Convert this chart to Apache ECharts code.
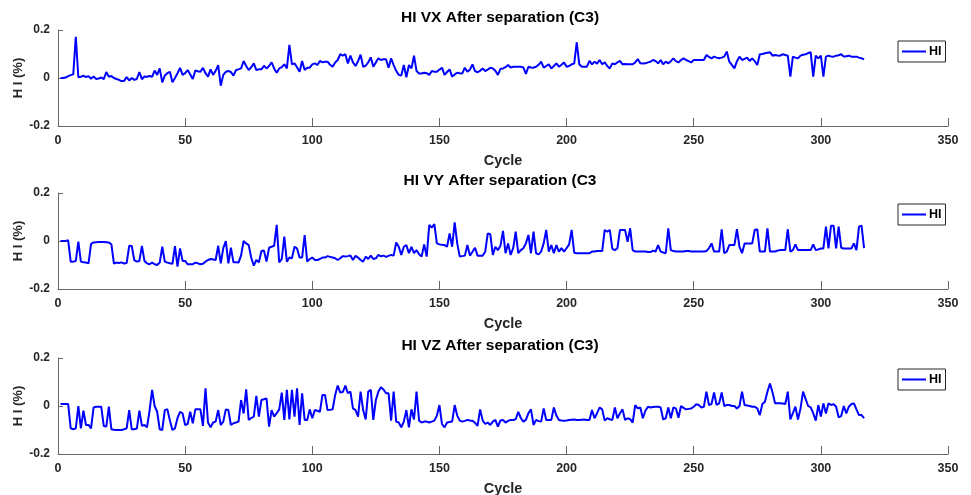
<!DOCTYPE html>
<html>
<head>
<meta charset="utf-8">
<title>HI After separation (C3)</title>
<script src="https://cdn.jsdelivr.net/npm/echarts@6/dist/echarts.min.js"></script>
<style>
  html, body { margin: 0; padding: 0; background: #fff; }
  #chart { width: 971px; height: 495px; }
</style>
</head>
<body>
<div id="chart"></div>
<script>
// HI 数据，按周期 1,2,3... 排列（每行 10 个周期）
var hiVX = [
  0.000, 0.000, 0.002, 0.008, 0.012, 0.015, 0.172, 0.003, 0.005, 0.010,
  0.004, 0.008, -0.003, 0.006, -0.004, -0.002, 0.002, -0.005, 0.025, 0.005,
  0.008, 0.000, -0.004, -0.008, -0.013, -0.012, 0.004, -0.010, 0.000, -0.008,
  -0.004, 0.025, -0.005, 0.006, 0.005, 0.008, 0.005, 0.031, 0.013, 0.040,
  -0.018, 0.010, 0.020, 0.026, -0.018, 0.000, 0.020, 0.042, 0.013, 0.020,
  0.033, 0.015, -0.004, 0.031, 0.028, 0.026, 0.042, 0.020, 0.006, 0.036,
  0.013, 0.030, 0.054, -0.032, 0.013, 0.026, 0.029, 0.025, 0.010, 0.033,
  0.036, 0.040, 0.071, 0.050, 0.033, 0.045, 0.061, 0.033, 0.036, 0.036,
  0.051, 0.040, 0.050, 0.065, 0.040, 0.022, 0.040, 0.045, 0.057, 0.040,
  0.138, 0.057, 0.061, 0.045, 0.026, 0.071, 0.033, 0.043, 0.043, 0.057,
  0.061, 0.054, 0.071, 0.065, 0.068, 0.068, 0.055, 0.047, 0.065, 0.075,
  0.099, 0.093, 0.099, 0.061, 0.093, 0.065, 0.050, 0.070, 0.097, 0.047,
  0.051, 0.065, 0.086, 0.047, 0.065, 0.082, 0.075, 0.078, 0.078, 0.043,
  0.082, 0.054, 0.030, 0.013, 0.010, 0.054, 0.003, 0.054, 0.040, 0.093,
  0.029, 0.019, 0.019, 0.022, 0.020, 0.013, 0.029, 0.026, 0.026, 0.035,
  0.043, 0.013, 0.025, 0.036, 0.006, 0.015, 0.022, 0.020, 0.019, 0.043,
  0.026, 0.035, 0.057, 0.029, 0.024, 0.030, 0.040, 0.029, 0.035, 0.043,
  0.040, 0.030, 0.013, 0.038, 0.040, 0.045, 0.054, 0.044, 0.047, 0.047,
  0.047, 0.047, 0.044, 0.017, 0.047, 0.044, 0.043, 0.047, 0.055, 0.068,
  0.043, 0.050, 0.057, 0.040, 0.050, 0.061, 0.047, 0.055, 0.065, 0.047,
  0.050, 0.057, 0.060, 0.149, 0.057, 0.047, 0.047, 0.047, 0.071, 0.057,
  0.068, 0.060, 0.075, 0.057, 0.065, 0.050, 0.040, 0.061, 0.057, 0.065,
  0.071, 0.057, 0.058, 0.057, 0.057, 0.057, 0.065, 0.079, 0.061, 0.060,
  0.061, 0.065, 0.068, 0.075, 0.071, 0.061, 0.075, 0.057, 0.068, 0.061,
  0.070, 0.082, 0.070, 0.065, 0.075, 0.082, 0.075, 0.070, 0.065, 0.075,
  0.075, 0.075, 0.075, 0.075, 0.096, 0.088, 0.082, 0.089, 0.085, 0.082,
  0.085, 0.089, 0.110, 0.068, 0.055, 0.040, 0.070, 0.089, 0.075, 0.080,
  0.085, 0.071, 0.082, 0.070, 0.054, 0.099, 0.100, 0.103, 0.105, 0.107,
  0.093, 0.096, 0.094, 0.093, 0.099, 0.096, 0.093, 0.006, 0.089, 0.085,
  0.082, 0.093, 0.097, 0.099, 0.104, 0.107, 0.006, 0.093, 0.082, 0.093,
  0.006, 0.089, 0.093, 0.090, 0.089, 0.093, 0.095, 0.099, 0.089, 0.091,
  0.093, 0.089, 0.089, 0.089, 0.085, 0.082, 0.078
];
var hiVY = [
  0.000, 0.000, 0.000, 0.003, -0.086, -0.086, -0.083, -0.003, -0.086, -0.089,
  -0.090, -0.093, -0.012, -0.006, -0.005, -0.004, -0.004, -0.004, -0.005, -0.006,
  -0.014, -0.094, -0.090, -0.092, -0.089, -0.094, -0.092, -0.020, -0.021, -0.080,
  -0.086, -0.083, -0.020, -0.083, -0.093, -0.097, -0.090, -0.097, -0.100, -0.090,
  -0.024, -0.086, -0.090, -0.093, -0.095, -0.021, -0.107, -0.031, -0.083, -0.083,
  -0.097, -0.097, -0.097, -0.090, -0.093, -0.097, -0.095, -0.086, -0.079, -0.075,
  -0.077, -0.079, -0.020, -0.093, -0.030, 0.000, -0.093, -0.028, -0.089, -0.089,
  -0.090, -0.060, 0.000, -0.010, -0.017, -0.070, -0.103, -0.079, -0.089, -0.042,
  -0.040, -0.086, -0.028, -0.024, -0.020, 0.067, -0.089, -0.075, 0.018, -0.086,
  -0.069, -0.072, -0.024, -0.031, -0.069, -0.069, 0.025, -0.086, -0.075, -0.069,
  -0.079, -0.079, -0.075, -0.069, -0.069, -0.063, -0.066, -0.069, -0.072, -0.079,
  -0.072, -0.063, -0.065, -0.063, -0.060, -0.079, -0.062, -0.069, -0.079, -0.086,
  -0.065, -0.075, -0.061, -0.075, -0.072, -0.058, -0.064, -0.061, -0.066, -0.062,
  -0.058, -0.061, -0.006, -0.024, -0.058, -0.024, -0.017, -0.051, -0.024, -0.051,
  -0.038, -0.055, -0.065, -0.014, -0.065, 0.067, 0.056, 0.070, -0.010, -0.014,
  -0.016, -0.017, -0.024, 0.032, -0.024, 0.078, -0.010, -0.065, -0.063, -0.061,
  -0.017, -0.061, -0.045, -0.028, -0.061, -0.061, -0.061, -0.045, 0.032, 0.028,
  -0.058, -0.024, -0.038, -0.020, 0.042, -0.051, -0.010, -0.058, -0.030, 0.039,
  -0.051, -0.038, -0.030, -0.010, 0.025, -0.051, 0.039, -0.051, -0.056, -0.044,
  -0.010, 0.046, -0.044, -0.017, -0.051, -0.017, -0.044, -0.030, -0.044, -0.030,
  -0.014, 0.046, -0.049, -0.051, -0.051, -0.051, -0.051, -0.051, -0.051, -0.044,
  -0.044, -0.042, -0.042, -0.042, 0.046, 0.039, 0.046, -0.033, -0.038, -0.030,
  0.046, 0.046, 0.046, -0.003, 0.053, -0.038, -0.044, -0.044, -0.044, -0.044,
  -0.044, -0.046, -0.046, -0.040, -0.044, -0.017, -0.044, -0.048, -0.051, 0.053,
  -0.038, -0.042, -0.044, -0.044, -0.044, -0.044, -0.042, -0.042, -0.044, -0.044,
  -0.044, -0.044, -0.044, -0.044, -0.042, -0.030, -0.010, -0.044, -0.044, -0.044,
  0.049, -0.051, -0.044, -0.017, -0.017, -0.017, 0.049, -0.024, -0.051, -0.010,
  -0.010, -0.010, -0.010, 0.046, 0.049, -0.044, -0.044, -0.044, 0.053, -0.044,
  -0.044, -0.044, -0.040, -0.038, -0.038, -0.038, 0.049, -0.044, -0.038, -0.014,
  -0.038, -0.038, -0.038, -0.038, -0.038, -0.038, -0.014, -0.038, -0.035, -0.031,
  -0.031, 0.060, -0.031, 0.064, 0.064, -0.031, 0.060, -0.028, -0.031, -0.031,
  -0.031, -0.031, -0.010, -0.038, 0.060, 0.064, -0.030
];
var hiVZ = [
  0.008, 0.008, 0.008, 0.008, -0.093, -0.097, -0.093, 0.000, -0.093, -0.019,
  -0.079, -0.079, -0.093, -0.006, -0.003, -0.003, -0.003, -0.083, -0.086, -0.003,
  -0.097, -0.099, -0.100, -0.100, -0.100, -0.097, -0.093, -0.017, -0.097, -0.097,
  -0.094, -0.019, -0.083, -0.079, -0.089, -0.020, 0.067, 0.000, -0.024, -0.097,
  -0.100, -0.017, -0.013, -0.060, -0.100, -0.093, -0.050, -0.024, -0.031, -0.079,
  -0.075, -0.024, -0.072, -0.014, -0.014, -0.014, -0.083, 0.074, -0.069, -0.089,
  -0.069, -0.065, -0.017, -0.079, -0.065, -0.014, -0.017, -0.079, -0.072, -0.069,
  -0.065, 0.025, -0.031, 0.069, -0.058, -0.050, -0.044, 0.042, -0.044, 0.025,
  0.028, 0.032, -0.086, -0.017, -0.044, -0.030, -0.014, 0.056, -0.058, 0.067,
  -0.056, 0.067, -0.044, 0.074, -0.079, 0.053, -0.058, -0.058, -0.014, -0.051,
  -0.017, -0.020, -0.024, 0.046, 0.046, -0.017, -0.016, -0.014, 0.046, 0.085,
  0.056, 0.058, 0.085, 0.053, 0.060, -0.010, -0.017, -0.044, 0.060, -0.017,
  -0.056, 0.060, 0.067, -0.058, 0.025, 0.060, 0.078, 0.069, 0.053, 0.053,
  -0.061, 0.060, -0.065, -0.069, -0.089, -0.065, -0.017, -0.089, -0.014, -0.056,
  0.060, -0.061, -0.069, -0.065, -0.065, -0.069, -0.065, -0.061, -0.040, 0.004,
  -0.075, -0.089, -0.069, -0.067, -0.065, 0.004, -0.040, -0.061, -0.065, -0.062,
  -0.058, -0.060, -0.061, -0.070, -0.083, -0.014, -0.060, -0.075, -0.069, -0.079,
  -0.065, -0.058, -0.086, -0.060, -0.058, -0.069, -0.062, -0.058, -0.058, -0.055,
  -0.024, -0.050, -0.065, -0.058, -0.030, -0.014, -0.079, -0.058, -0.063, -0.065,
  -0.010, -0.058, -0.058, -0.058, -0.006, -0.040, -0.058, -0.060, -0.061, -0.060,
  -0.058, -0.057, -0.056, -0.058, -0.058, -0.057, -0.056, -0.058, -0.058, -0.017,
  -0.051, -0.030, -0.006, -0.014, -0.061, -0.051, -0.055, -0.058, -0.006, -0.051,
  -0.030, -0.014, -0.058, -0.051, -0.055, -0.069, 0.004, -0.010, -0.006, -0.051,
  -0.020, -0.003, -0.006, -0.004, -0.003, -0.003, -0.006, -0.056, -0.051, -0.006,
  -0.051, -0.006, -0.010, -0.049, 0.000, -0.008, -0.014, -0.012, -0.010, -0.003,
  0.007, 0.004, -0.006, -0.003, 0.060, 0.004, 0.008, 0.056, 0.004, 0.011,
  0.056, 0.000, 0.004, 0.004, 0.000, 0.000, -0.010, 0.000, 0.060, 0.004,
  0.002, 0.000, -0.003, -0.003, -0.010, -0.038, 0.008, 0.018, 0.060, 0.094,
  0.056, 0.011, 0.011, 0.011, 0.010, 0.008, 0.060, -0.056, -0.030, -0.003,
  -0.056, -0.010, 0.060, 0.030, 0.000, -0.006, -0.030, -0.061, 0.004, -0.044,
  0.011, -0.031, 0.011, 0.004, 0.008, -0.003, -0.047, -0.042, 0.000, -0.031,
  -0.003, 0.008, 0.011, -0.014, -0.038, -0.038, -0.051
];
var titles = ['HI VX After separation (C3)', 'HI VY After separation (C3', 'HI VZ After separation (C3)'];
var xTickValues = [0, 50, 100, 150, 200, 250, 300, 350];
var yTickValues = [-0.2, 0, 0.2];

var FONT = '"Liberation Sans", Arial, Helvetica, sans-serif';
var AXIS_COLOR = '#666666';
var TEXT_COLOR = '#262626';

function toPairs(arr) {
  // 横轴为周期号，从 1 开始
  return arr.map(function (v, i) { return [i + 1, v]; });
}

function initChart() {
  var chart = echarts.init(document.getElementById('chart'), null, { renderer: 'canvas' });
  var tops = [30, 193, 358];
  var plotH = 96;
  var all = [hiVX, hiVY, hiVZ];
  var option = {
    animation: false,
    backgroundColor: '#ffffff',
    textStyle: { fontFamily: FONT },
    title: [], grid: [], xAxis: [], yAxis: [], legend: [], series: []
  };
  all.forEach(function (arr, i) {
    option.title.push({
      text: titles[i],
      left: 500,
      top: tops[i] - 20,
      textAlign: 'center',
      padding: 0,
      textStyle: { fontFamily: FONT, fontSize: 15.5, fontWeight: 'bold', color: '#000' }
    });
    option.grid.push({
      left: 58, right: 23, top: tops[i], height: plotH,
      containLabel: false, outerBoundsMode: 'none'
    });
    option.xAxis.push({
      type: 'value',
      gridIndex: i,
      min: xTickValues[0],
      max: xTickValues[xTickValues.length - 1],
      interval: xTickValues[1] - xTickValues[0],
      name: 'Cycle',
      nameLocation: 'middle',
      nameGap: 27,
      nameMoveOverlap: false,
      nameTextStyle: { fontFamily: FONT, fontSize: 14.5, fontWeight: 'bold', color: TEXT_COLOR },
      axisLine: { show: true, onZero: false, lineStyle: { color: AXIS_COLOR, width: 1 } },
      axisTick: { show: true, inside: true, length: 8, lineStyle: { color: AXIS_COLOR } },
      axisLabel: { fontFamily: FONT, fontSize: 12.5, fontWeight: 'bold', color: TEXT_COLOR, margin: 8 },
      splitLine: { show: false }
    });
    option.yAxis.push({
      type: 'value',
      gridIndex: i,
      min: yTickValues[0],
      max: yTickValues[yTickValues.length - 1],
      interval: yTickValues[1] - yTickValues[0],
      name: 'H I (%)',
      nameLocation: 'middle',
      nameGap: 33,
      nameMoveOverlap: false,
      nameTextStyle: { fontFamily: FONT, fontSize: 13, fontWeight: 'bold', color: TEXT_COLOR },
      axisLine: { show: true, onZero: false, lineStyle: { color: AXIS_COLOR, width: 1 } },
      axisTick: { show: true, inside: true, length: 5, lineStyle: { color: AXIS_COLOR } },
      axisLabel: {
        fontFamily: FONT, fontSize: 12, fontWeight: 'bold', color: TEXT_COLOR, margin: 8,
        formatter: function (v) { return Math.abs(v) < 1e-9 ? '0' : String(+v.toFixed(1)); }
      },
      splitLine: { show: false }
    });
    option.legend.push({
      data: ['HI'],
      left: 898,
      top: tops[i] + 11,
      padding: [4, 4, 4, 4],
      icon: 'rect',
      itemWidth: 24,
      itemHeight: 2,
      itemGap: 0,
      borderColor: '#262626',
      borderWidth: 1,
      borderRadius: 0,
      backgroundColor: '#ffffff',
      selectedMode: false,
      textStyle: { fontFamily: FONT, fontSize: 12.5, fontWeight: 'bold', color: '#000', padding: [0, 0, 0, -2] }
    });
    option.series.push({
      name: 'HI',
      type: 'line',
      xAxisIndex: i,
      yAxisIndex: i,
      data: toPairs(arr),
      symbol: 'none',
      smooth: false,
      lineStyle: { color: '#0000ff', width: 2 },
      itemStyle: { color: '#0000ff' }
    });
  });
  chart.setOption(option);
}

initChart();
</script>
</body>
</html>
